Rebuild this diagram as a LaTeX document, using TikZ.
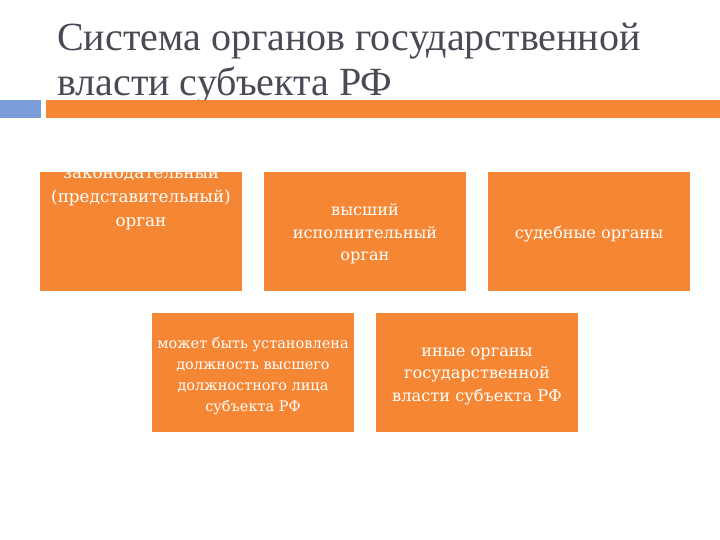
\documentclass[tikz,border=0pt]{standalone}
\usepackage{fontspec}
\setmainfont{Liberation Serif}
\newfontfamily\boxfont{DejaVu Serif}
\definecolor{boxor}{HTML}{F58634}
\definecolor{barblue}{HTML}{7A9CD8}
\definecolor{titlegray}{HTML}{4A4A55}
\begin{document}
\begin{tikzpicture}[x=1pt,y=-1pt,
  orbox/.style={fill=boxor, draw=none, minimum width=202pt, minimum height=119pt, anchor=north west, inner sep=0pt},
  btext/.style={text=white, align=center, font=\boxfont\fontsize{16.2}{22.5}\selectfont, inner sep=0pt},
  ttl/.style={text=titlegray, anchor=base west, font=\fontsize{40}{45}\selectfont, inner sep=0pt}]
\useasboundingbox[fill=white] (0,0) rectangle (720,540);
% title
\node[ttl] (t1) at (57,51) {Система органов государственной};
\node[ttl] (t2) at (57,96) {власти субъекта РФ};
% bars
\fill[barblue] (0,100) rectangle (41,118);
\fill[boxor] (46,100) rectangle (720,118);
% boxes
\node[orbox] (b1) at (40,172) {};
\node[orbox] (b2) at (264,172) {};
\node[orbox] (b3) at (488,172) {};
\node[orbox] (b4) at (152,313) {};
\node[orbox] (b5) at (376,313) {};
% texts
\node[btext, font=\boxfont\fontsize{16.8}{24}\selectfont] (l1) at (141,198) {законодательный\\(представительный)\\орган};
\node[btext] (l2) at (365,234) {высший\\исполнительный\\орган};
\node[btext] (l3) at (589,234) {судебные органы};
\node[btext, font=\boxfont\fontsize{14.5}{21.3}\selectfont] (l4) at (253,376) {может быть установлена\\должность высшего\\должностного лица\\субъекта РФ};
\node[btext] (l5) at (477,376) {иные органы\\государственной\\власти субъекта РФ};
\end{tikzpicture}
\end{document}
